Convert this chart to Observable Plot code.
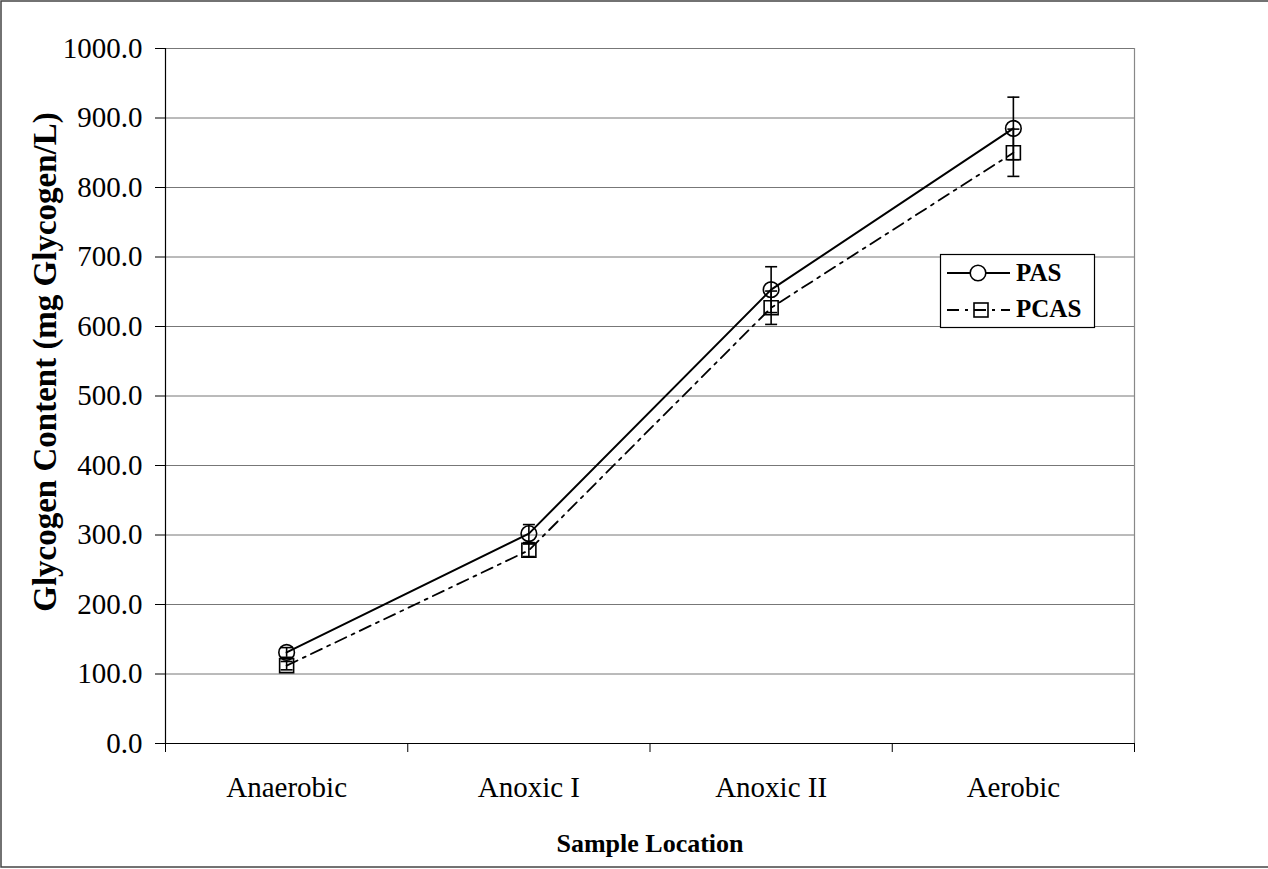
<!DOCTYPE html>
<html>
<head>
<meta charset="utf-8">
<script src="https://cdn.jsdelivr.net/npm/d3@7"></script>
<script src="https://cdn.jsdelivr.net/npm/@observablehq/plot@0.6"></script>
<style>
  body { margin: 0; background: #fff; }
  #chart svg { display: block; }
</style>
</head>
<body>
<div id="chart"></div>
<script>
// Sample locations along the process train
const locations = ["Anaerobic", "Anoxic I", "Anoxic II", "Aerobic"];
// Glycogen content (mg glycogen/L), mean and error half-width per location
const pasMean = [131, 302, 653, 885];
const pasErr = [7, 13, 33, 45];
const pcasMean = [112, 278, 627, 850];
const pcasErr = [6, 9, 24, 34];
// Value axis ticks
const yTicks = [0, 100, 200, 300, 400, 500, 600, 700, 800, 900, 1000];
const seriesNames = ["PAS", "PCAS"];
const xTitle = "Sample Location";
const yTitle = "Glycogen Content (mg Glycogen/L)";

const serif = "'Liberation Serif', 'Times New Roman', serif";

function rows(name, means, errs) {
  return locations.map((loc, i) => ({
    series: name, loc, pos: i + 0.5,
    value: means[i], lo: means[i] - errs[i], hi: means[i] + errs[i]
  }));
}
const pas = rows(seriesNames[0], pasMean, pasErr);
const pcas = rows(seriesNames[1], pcasMean, pcasErr);
const all = pas.concat(pcas);

// Horizontal cap used at the ends of the error bars
const cap = {
  draw(ctx, size) {
    const w = Math.sqrt(size / Math.PI);
    ctx.moveTo(-w, 0);
    ctx.lineTo(w, 0);
  }
};

const W = 1268, H = 869;
const dashDot = "12,6,3,6";

const chart = Plot.plot({
  width: W,
  height: H,
  marginLeft: 165,
  marginRight: 134,
  marginTop: 48,
  marginBottom: 126,
  style: {fontFamily: serif, fontSize: "29px", color: "black", background: "white", overflow: "visible"},
  x: {type: "linear", domain: [0, locations.length]},
  y: {type: "linear", domain: [0, 1000]},
  marks: [
    // horizontal gridlines and right edge of plot area
    Plot.ruleY(yTicks.filter(d => d > 0), {stroke: "#777", strokeWidth: 1}),
    Plot.ruleX([locations.length], {stroke: "#888", strokeWidth: 1.2}),
    // value axis
    Plot.axisY({
      ticks: yTicks, tickFormat: d => d.toFixed(1), tickSize: 10, tickPadding: 13,
      label: null, fontSize: 29, stroke: "black"
    }),
    // category labels centred in each band
    Plot.axisX({
      ticks: locations.map((d, i) => i + 0.5), tickFormat: d => locations[Math.floor(d)],
      tickSize: 0, tickPadding: 33, label: null, fontSize: 29
    }),
    // tick marks on the band boundaries
    Plot.axisX({
      ticks: d3.range(locations.length + 1), tickFormat: () => "",
      tickSize: 9, tickPadding: 0, label: null, stroke: "black"
    }),
    Plot.ruleX([0], {stroke: "black", strokeWidth: 1.2}),
    Plot.ruleY([0], {stroke: "black", strokeWidth: 1.2}),
    // series lines
    Plot.line(pas, {x: "pos", y: "value", stroke: "black", strokeWidth: 2}),
    Plot.line(pcas, {x: "pos", y: "value", stroke: "black", strokeWidth: 1.8, strokeDasharray: dashDot}),
    // error bars
    Plot.ruleX(all, {x: "pos", y1: "lo", y2: "hi", stroke: "black", strokeWidth: 1.6}),
    Plot.dot(all, {x: "pos", y: "hi", symbol: cap, r: 6, fill: "none", stroke: "black", strokeWidth: 1.6}),
    Plot.dot(all, {x: "pos", y: "lo", symbol: cap, r: 6, fill: "none", stroke: "black", strokeWidth: 1.6}),
    // markers
    Plot.dot(pas, {x: "pos", y: "value", r: 7.8, fill: "none", stroke: "black", strokeWidth: 1.6}),
    Plot.dot(pcas, {x: "pos", y: "value", symbol: "square", r: 7.9, fill: "none", stroke: "black", strokeWidth: 1.6}),
    // axis titles
    Plot.text([xTitle], {
      frameAnchor: "bottom", dy: 108, lineAnchor: "bottom", textAnchor: "middle",
      fontWeight: "bold", fontSize: 26, fill: "black"
    }),
    Plot.text([yTitle], {
      frameAnchor: "left", dx: -110, dy: -34, rotate: -90, lineAnchor: "bottom", textAnchor: "middle",
      fontWeight: "bold", fontSize: 33, fill: "black"
    })
  ]
});

const svg = d3.select(chart);

// outer chart border
svg.append("rect")
  .attr("x", 1).attr("y", 1).attr("width", W + 4).attr("height", H - 3)
  .attr("fill", "none").attr("stroke", "#444").attr("stroke-width", 1.5);

// legend
const lg = svg.append("g")
  .attr("font-family", serif).attr("font-weight", "bold").attr("font-size", 25)
  .attr("text-anchor", "start");
lg.append("rect")
  .attr("x", 940.5).attr("y", 254.5).attr("width", 154).attr("height", 73)
  .attr("fill", "white").attr("stroke", "black").attr("stroke-width", 1.2);
const rowsY = [273, 310];
lg.append("line").attr("x1", 947).attr("x2", 1010).attr("y1", rowsY[0]).attr("y2", rowsY[0])
  .attr("stroke", "black").attr("stroke-width", 2);
lg.append("circle").attr("cx", 978).attr("cy", rowsY[0]).attr("r", 7.8)
  .attr("fill", "white").attr("stroke", "black").attr("stroke-width", 1.6);
lg.append("line").attr("x1", 947).attr("x2", 1010).attr("y1", rowsY[1]).attr("y2", rowsY[1])
  .attr("stroke", "black").attr("stroke-width", 1.8).attr("stroke-dasharray", dashDot);
lg.append("rect").attr("x", 974).attr("y", rowsY[1] - 7).attr("width", 14).attr("height", 14)
  .attr("fill", "none").attr("stroke", "black").attr("stroke-width", 1.6);
lg.append("text").attr("x", 1016).attr("y", rowsY[0] + 8).attr("text-anchor", "start").text(seriesNames[0]);
lg.append("text").attr("x", 1016).attr("y", rowsY[1] + 7).attr("text-anchor", "start").text(seriesNames[1]);

document.getElementById("chart").appendChild(chart);
</script>
</body>
</html>
